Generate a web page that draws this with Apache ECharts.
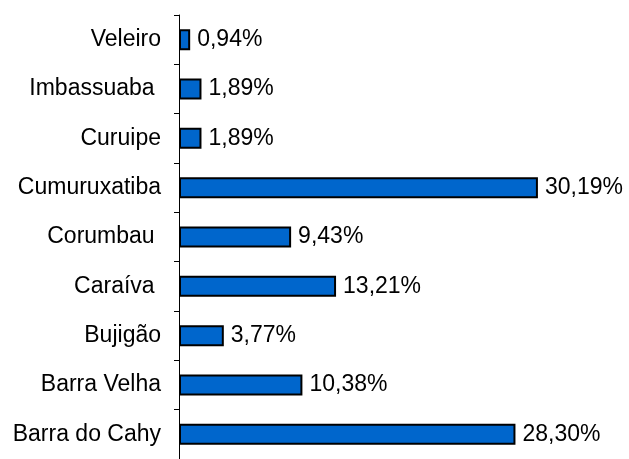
<!DOCTYPE html>
<html>
<head>
<meta charset="utf-8">
<script src="https://cdn.jsdelivr.net/npm/echarts@6/dist/echarts.min.js"></script>
<style>
html,body{margin:0;padding:0;background:#fff;}
#c{width:629px;height:459px;}
</style>
</head>
<body>
<div id="c"></div>
<script>
// bottom to top
var categories = ['Barra do Cahy', 'Barra Velha', 'Bujigão', 'Caraíva ', 'Corumbau ', 'Cumuruxatiba', 'Curuipe', 'Imbassuaba ', 'Veleiro'];
var values = [28.30, 10.38, 3.77, 13.21, 9.43, 30.19, 1.89, 1.89, 0.94];

var chart = echarts.init(document.getElementById('c'), null, {renderer: 'canvas'});
var font = '"Liberation Sans", Arial, sans-serif';
chart.setOption({
  animation: false,
  backgroundColor: '#ffffff',
  grid: {left: 179, right: 22, top: 15, bottom: -5, containLabel: false},
  xAxis: {
    type: 'value', min: 0, max: 36,
    show: false
  },
  yAxis: {
    type: 'category',
    data: categories,
    boundaryGap: true,
    axisLine: {show: true, lineStyle: {color: '#000', width: 1}},
    axisTick: {show: true, length: 5, inside: false, lineStyle: {color: '#000', width: 1}},
    axisLabel: {
      margin: 18, color: '#000', fontSize: 23, fontFamily: font
    },
    splitLine: {show: false}
  },
  series: [{
    type: 'bar',
    data: values,
    barWidth: 21,
    itemStyle: {color: '#0066cc', borderColor: '#000', borderWidth: 2},
    label: {
      show: true, position: 'right', distance: 7,
      color: '#000', fontSize: 23, fontFamily: font,
      formatter: function (p) { return p.value.toFixed(2).replace('.', ',') + '%'; }
    }
  }]
});
</script>
</body>
</html>
